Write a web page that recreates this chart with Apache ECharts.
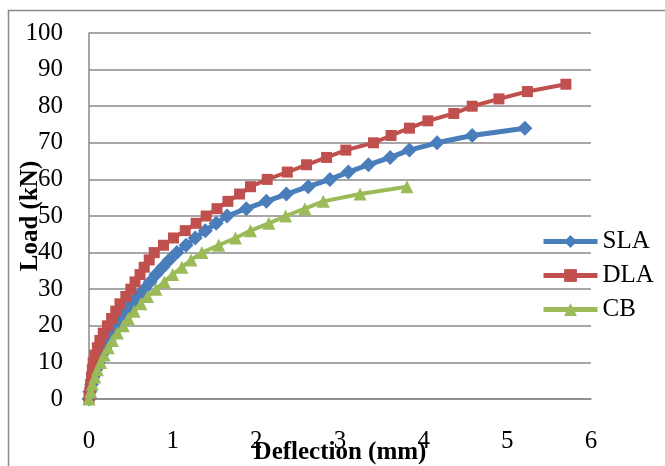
<!DOCTYPE html>
<html>
<head>
<meta charset="utf-8">
<style>
  html, body { margin: 0; padding: 0; background: #fff; }
  #chart { width: 665px; height: 466px; }
</style>
<script src="https://cdn.jsdelivr.net/npm/echarts@6/dist/echarts.min.js"></script>
</head>
<body>
<div id="chart"></div>
<script>
// load steps (kN) and deflections (mm)
const slaLoad = [0, 2, 4, 6, 8, 10, 12, 14, 16, 18, 20, 22, 24, 26, 28, 30, 32, 34, 36, 38, 40, 42, 44, 46, 48, 50, 52, 54, 56, 58, 60, 62, 64, 66, 68, 70, 72, 74]
const slaDefl = [0, 0.01, 0.03, 0.05, 0.08, 0.11, 0.15, 0.19, 0.24, 0.29, 0.34, 0.39, 0.45, 0.51, 0.58, 0.66, 0.73, 0.8, 0.88, 0.96, 1.05, 1.16, 1.27, 1.39, 1.52, 1.65, 1.88, 2.12, 2.36, 2.62, 2.88, 3.1, 3.34, 3.6, 3.83, 4.16, 4.58, 5.21]

const dlaLoad = [0, 2, 4, 6, 8, 10, 12, 14, 16, 18, 20, 22, 24, 26, 28, 30, 32, 34, 36, 38, 40, 42, 44, 46, 48, 50, 52, 54, 56, 58, 60, 62, 64, 66, 68, 70, 72, 74, 76, 78, 80, 82, 84, 86]
const dlaDefl = [0, 0.01, 0.02, 0.03, 0.04, 0.05, 0.07, 0.1, 0.13, 0.17, 0.22, 0.27, 0.32, 0.37, 0.44, 0.5, 0.55, 0.61, 0.66, 0.72, 0.78, 0.89, 1.01, 1.15, 1.28, 1.4, 1.53, 1.66, 1.8, 1.93, 2.13, 2.37, 2.6, 2.84, 3.07, 3.4, 3.61, 3.83, 4.05, 4.36, 4.58, 4.9, 5.24, 5.7]

const cbLoad = [0, 2, 4, 6, 8, 10, 12, 14, 16, 18, 20, 22, 24, 26, 28, 30, 32, 34, 36, 38, 40, 42, 44, 46, 48, 50, 52, 54, 56, 58]
const cbDefl = [0, 0.02, 0.04, 0.07, 0.1, 0.14, 0.18, 0.23, 0.28, 0.34, 0.41, 0.47, 0.54, 0.62, 0.7, 0.8, 0.9, 1.0, 1.11, 1.22, 1.35, 1.55, 1.75, 1.93, 2.15, 2.35, 2.58, 2.8, 3.24, 3.8]

const xTicks = [0, 1, 2, 3, 4, 5, 6]
const yTicks = [0, 10, 20, 30, 40, 50, 60, 70, 80, 90, 100]

const font = "'Liberation Serif', 'Times New Roman', serif"
const fs = 25

function pairs(xs, ys) {
  return xs.map((x, i) => [x, ys[i]])
}

const chart = echarts.init(document.getElementById('chart'))
chart.setOption({
  animation: false,
  textStyle: { fontFamily: font, color: '#000' },
  graphic: [
    {
      // outer chart border, runs off the picture at right and bottom
      type: 'rect',
      shape: { x: 8.5, y: 10.5, width: 720, height: 520 },
      style: { fill: 'none', stroke: '#8a8a8a', lineWidth: 1.5 },
      silent: true,
    },
  ],
  grid: {
    left: 89,
    top: 33,
    right: 74,
    bottom: 67,
    outerBoundsMode: 'none',
    containLabel: false,
  },
  legend: {
    orient: 'vertical',
    left: 536,
    top: 224,
    itemWidth: 54,
    itemHeight: 16,
    itemGap: 9,
    lineStyle: { width: 5 },
    textStyle: { fontFamily: font, fontSize: fs, lineHeight: fs, color: '#000' },
    data: ['SLA', 'DLA', 'CB'],
  },
  xAxis: {
    type: 'value',
    min: xTicks[0],
    max: xTicks[xTicks.length - 1],
    interval: 1,
    name: 'Deflection (mm)',
    nameLocation: 'middle',
    nameGap: 41,
    nameMoveOverlap: false,
    nameTextStyle: { fontFamily: font, fontSize: fs, fontWeight: 'bold', color: '#000' },
    axisLine: { show: true, lineStyle: { color: '#8a8a8a', width: 1.5 } },
    axisTick: { show: false },
    splitLine: { show: false },
    axisLabel: { fontFamily: font, fontSize: fs, color: '#000', margin: 30 },
  },
  yAxis: {
    type: 'value',
    min: yTicks[0],
    max: yTicks[yTicks.length - 1],
    interval: 10,
    name: 'Load (kN)',
    nameLocation: 'middle',
    nameGap: 46,
    nameMoveOverlap: false,
    nameTextStyle: { fontFamily: font, fontSize: fs, fontWeight: 'bold', color: '#000' },
    axisLine: { show: true, lineStyle: { color: '#8a8a8a', width: 1.5 } },
    axisTick: { show: false },
    splitLine: { show: true, lineStyle: { color: '#8a8a8a', width: 1.5 } },
    axisLabel: { fontFamily: font, fontSize: fs, color: '#000', margin: 26 },
  },
  series: [
    {
      name: 'SLA',
      type: 'line',
      data: pairs(slaDefl, slaLoad),
      symbol: 'diamond',
      symbolSize: 15,
      color: '#4a7ebb',
      lineStyle: { width: 5 },
      z: 2,
    },
    {
      name: 'DLA',
      type: 'line',
      data: pairs(dlaDefl, dlaLoad),
      symbol: 'rect',
      symbolSize: 11,
      color: '#c0504d',
      lineStyle: { width: 4 },
      z: 3,
    },
    {
      name: 'CB',
      type: 'line',
      data: pairs(cbDefl, cbLoad),
      symbol: 'triangle',
      symbolSize: 13,
      color: '#9bbb59',
      lineStyle: { width: 4 },
      z: 4,
    },
  ],
})
</script>
</body>
</html>
